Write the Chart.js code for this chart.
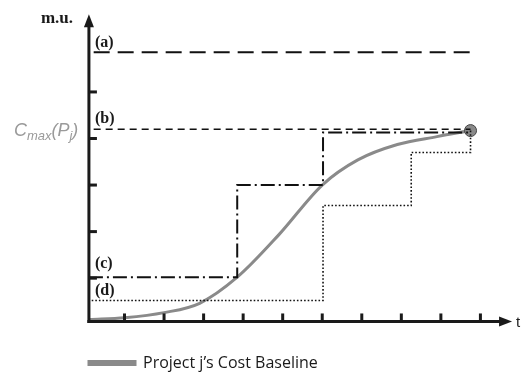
<!DOCTYPE html>
<html>
<head>
<meta charset="utf-8">
<script src="https://cdn.jsdelivr.net/npm/chart.js@4/dist/chart.umd.min.js"></script>
<style>
  html, body { margin: 0; padding: 0; background: #fff; }
  canvas { display: block; }
</style>
</head>
<body>
<canvas id="costChart" width="524" height="375"></canvas>
<script>
// axis units: one x unit per tick, one y unit per tick
const xTicks = [1, 2, 3, 4, 5, 6, 7, 8, 9, 10];
const yTicks = [1, 2, 3, 4, 5];

// gray S-curve (cost baseline)
const curveX = [0.12, 1, 2, 2.9, 3.85, 4.9, 6.0, 6.9, 7.9, 8.9, 9.75];
const curveY = [0.11, 0.15, 0.26, 0.46, 1.02, 1.93, 3.0, 3.54, 3.87, 4.04, 4.17];

// (a) and (b) horizontal levels
const lineAX = [0.22, 9.78];
const lineAY = [5.85, 5.85];
const lineBX = [0.22, 9.75];
const lineBY = [4.2, 4.2];

// (c) dash-dot step line
const stepCX = [0.1, 3.85, 3.85, 6.02, 6.02, 9.75];
const stepCY = [1.02, 1.02, 3.0, 3.0, 4.13, 4.13];

// (d) dotted step line
const stepDX = [0.17, 6.02, 6.02, 8.25, 8.25, 9.75, 9.75];
const stepDY = [0.52, 0.52, 2.56, 2.56, 3.7, 3.7, 4.17];

const xOrigin = 0.1, yOrigin = 0.07;

function pts(xs, ys) {
  return xs.map((x, i) => ({ x: x, y: ys[i] }));
}

/* ==== axes with arrows, ticks and labels ==== */
const axesPlugin = {
  id: "axesPlugin",
  afterDraw(chart) {
    const { ctx, scales } = chart;
    const xs = scales.x, ys = scales.y;
    const x0 = xs.getPixelForValue(xOrigin);
    const y0 = ys.getPixelForValue(yOrigin);
    const top = ys.getPixelForValue(6.67);
    const right = xs.getPixelForValue(10.8);

    ctx.save();
    ctx.strokeStyle = "#1a1a1a";
    ctx.fillStyle = "#1a1a1a";
    ctx.lineWidth = 3;
    ctx.setLineDash([]);

    // y axis
    ctx.beginPath();
    ctx.moveTo(x0, y0 + 1.5);
    ctx.lineTo(x0, top + 10);
    ctx.stroke();
    ctx.beginPath();
    ctx.moveTo(x0, top);
    ctx.lineTo(x0 - 5, top + 13);
    ctx.lineTo(x0 + 5, top + 13);
    ctx.closePath();
    ctx.fill();

    // x axis
    ctx.beginPath();
    ctx.moveTo(x0 - 1.5, y0);
    ctx.lineTo(right - 10, y0);
    ctx.stroke();
    ctx.beginPath();
    ctx.moveTo(right, y0);
    ctx.lineTo(right - 13, y0 - 5);
    ctx.lineTo(right - 13, y0 + 5);
    ctx.closePath();
    ctx.fill();

    // ticks
    yTicks.forEach(v => {
      const py = ys.getPixelForValue(v);
      ctx.beginPath();
      ctx.moveTo(x0, py);
      ctx.lineTo(x0 + 8, py);
      ctx.stroke();
    });
    xTicks.forEach(v => {
      const px = xs.getPixelForValue(v);
      ctx.beginPath();
      ctx.moveTo(px, y0);
      ctx.lineTo(px, y0 - 8);
      ctx.stroke();
    });

    // labels
    ctx.textBaseline = "alphabetic";
    ctx.textAlign = "left";
    ctx.font = "bold 17px 'Liberation Serif'";
    ctx.fillText("m.u.", x0 - 48, top + 9);
    ctx.font = "bold 16px 'Liberation Serif'";
    ctx.fillText("(a)", x0 + 6, ys.getPixelForValue(lineAY[0]) - 5);
    ctx.fillText("(b)", x0 + 6, ys.getPixelForValue(lineBY[0]) - 6);
    ctx.fillText("(c)", x0 + 6, ys.getPixelForValue(stepCY[0]) - 9);
    ctx.fillText("(d)", x0 + 6, ys.getPixelForValue(stepDY[0]) - 6);

    ctx.font = "15px 'Liberation Sans'";
    ctx.fillText("t", right + 4, y0 + 6);

    // C_max(P_j)
    ctx.fillStyle = "#9a9a9a";
    let cx = x0 - 75;
    const cy = ys.getPixelForValue(lineBY[0]) + 7;
    const parts = [
      ["C", "italic 18px 'Liberation Sans'", 0],
      ["max", "italic 13px 'Liberation Sans'", 4],
      ["(P", "italic 18px 'Liberation Sans'", 0],
      ["j", "italic 13px 'Liberation Sans'", 4],
      [")", "italic 18px 'Liberation Sans'", 0]
    ];
    parts.forEach(p => {
      ctx.font = p[1];
      ctx.fillText(p[0], cx, cy + p[2]);
      cx += ctx.measureText(p[0]).width;
    });
    ctx.restore();
  }
};

const chart = new Chart(document.getElementById("costChart"), {
  type: "line",
  data: {
    datasets: [
      {
        label: "(a)",
        data: pts(lineAX, lineAY),
        borderColor: "#111",
        borderWidth: 2,
        borderDash: [16, 8],
        pointRadius: 0,
        tension: 0
      },
      {
        label: "(b)",
        data: pts(lineBX, lineBY),
        borderColor: "#111",
        borderWidth: 1.6,
        borderDash: [7, 5],
        pointRadius: 0,
        tension: 0
      },
      {
        label: "(c)",
        data: pts(stepCX, stepCY),
        borderColor: "#111",
        borderWidth: 2,
        borderDash: [14, 4, 2, 4],
        pointRadius: 0,
        tension: 0
      },
      {
        label: "(d)",
        data: pts(stepDX, stepDY),
        borderColor: "#111",
        borderWidth: 1.6,
        borderDash: [1.6, 2],
        pointRadius: 0,
        tension: 0
      },
      {
        label: "Project j\u2019s Cost Baseline",
        data: pts(curveX, curveY),
        borderColor: "#8a8a8a",
        backgroundColor: "#8a8a8a",
        borderWidth: 3,
        cubicInterpolationMode: "monotone",
        pointRadius: curveX.map((_, i) => i === curveX.length - 1 ? 6 : 0),
        pointBackgroundColor: "#8a8a8a",
        pointBorderColor: "#444",
        pointBorderWidth: 1
      }
    ]
  },
  options: {
    responsive: false,
    animation: false,
    layout: { padding: { left: 82, right: 4, top: 10, bottom: -6 } },
    scales: {
      x: {
        type: "linear",
        min: -0.075,
        max: 10.925,
        display: false
      },
      y: {
        type: "linear",
        min: -0.5,
        max: 6.76,
        display: false
      }
    },
    plugins: {
      legend: {
        display: true,
        position: "bottom",
        align: "start",
        labels: {
          filter: item => item.datasetIndex === 4,
          boxWidth: 46,
          boxHeight: 3,
          padding: 7,
          color: "#1a1a1a",
          font: { family: "Open Sans", size: 16 }
        }
      },
      tooltip: { enabled: false }
    }
  },
  plugins: [axesPlugin]
});
</script>
</body>
</html>
